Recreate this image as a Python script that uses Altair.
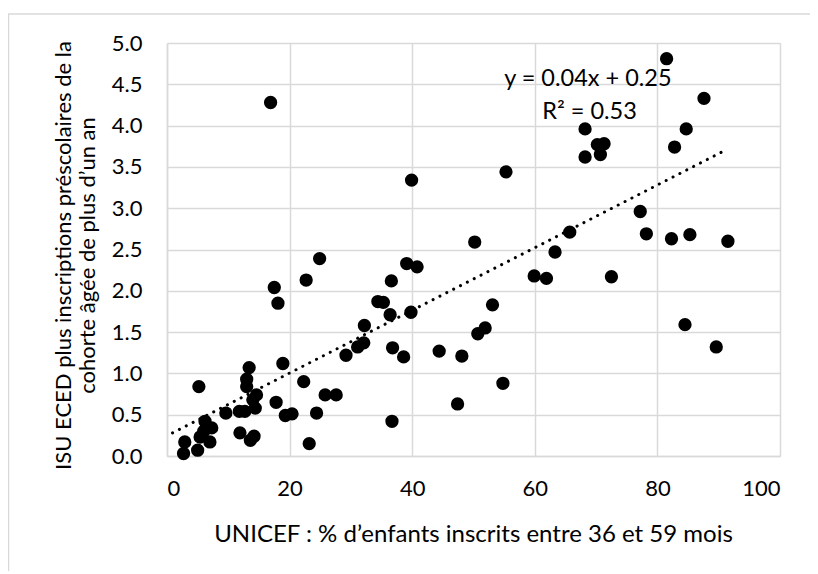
import altair as alt
import pandas as pd

# Data
unicef_pct = [81.5, 16.9, 87.6, 68.2, 84.7, 70.2, 71.3, 82.8, 68.2, 70.7,
              55.3, 39.9, 77.2, 65.7, 78.2, 82.3, 85.3, 91.5, 50.2, 63.3,
              24.9, 39.1, 40.8, 59.9, 61.9, 72.5, 22.7, 36.6, 17.5, 18.1,
              34.4, 35.3, 53.1, 36.4, 39.8, 84.5, 32.2, 50.7, 51.9, 32.1,
              31.1, 36.8, 89.6, 44.4, 29.2, 38.6, 48.1, 18.9, 13.4, 13.0,
              13.0, 22.3, 54.8, 5.2, 14.6, 25.8, 27.6, 17.8, 47.4, 14.4,
              11.8, 12.7, 9.6, 24.4, 19.3, 20.4, 6.2, 36.7, 7.3, 11.9,
              14.2, 13.6, 7.0, 23.2, 2.9, 5.0, 2.7, 5.4, 6.0, 14.0]
isu_value = [4.81, 4.28, 4.33, 3.96, 3.96, 3.77, 3.78, 3.74, 3.62, 3.65,
             3.44, 3.34, 2.96, 2.71, 2.69, 2.63, 2.68, 2.60, 2.59, 2.47,
             2.39, 2.33, 2.29, 2.18, 2.15, 2.17, 2.13, 2.12, 2.04, 1.85,
             1.87, 1.86, 1.83, 1.71, 1.74, 1.59, 1.58, 1.48, 1.55, 1.37,
             1.32, 1.31, 1.32, 1.27, 1.22, 1.20, 1.21, 1.12, 1.07, 0.93,
             0.84, 0.90, 0.88, 0.84, 0.74, 0.74, 0.74, 0.65, 0.63, 0.58,
             0.54, 0.54, 0.52, 0.52, 0.49, 0.51, 0.42, 0.42, 0.34, 0.28,
             0.24, 0.19, 0.17, 0.15, 0.17, 0.07, 0.03, 0.23, 0.30, 0.68]

# Linear trendline as drawn in the reference (end points)
trend_x = [0.9, 91.3]
trend_y = [0.28, 3.71]

annot_text = ["y = 0.04x + 0.25", "R² = 0.53"]
annot_x = [55.0, 61.2]
annot_y = [4.56, 4.17]

x_title = "UNICEF : % d’enfants inscrits entre 36 et 59 mois"
y_title = ["ISU ECED plus inscriptions préscolaires de la",
           "cohorte âgée de plus d’un an"]

FONT = "Lato"
GRID = "#d9d9d9"

df = pd.DataFrame({"x": unicef_pct, "y": isu_value})
tr = pd.DataFrame({"x": trend_x, "y": trend_y})
ann = pd.DataFrame({"t": annot_text, "x": annot_x, "y": annot_y})
one = pd.DataFrame({"a": [0]})

xs = alt.Scale(domain=[0, 100], nice=False, zero=True)
ys = alt.Scale(domain=[0, 5], nice=False)

xax = alt.Axis(values=[0, 20, 40, 60, 80, 100], grid=True, ticks=False,
               labelPadding=22, title=x_title, titleX=306, titleY=78,
               titleBaseline="middle", titleAlign="center", titleFontSize=24)
yax = alt.Axis(values=[0, 0.5, 1, 1.5, 2, 2.5, 3, 3.5, 4, 4.5, 5], format=".1f",
               grid=True, ticks=False, labelPadding=25, title=y_title,
               titleX=-104, titleY=212, titleAngle=270, titleBaseline="middle",
               titleAlign="center", titleLineHeight=24, titleFontSize=22)

points = alt.Chart(df).mark_circle(color="black", opacity=1, size=177).encode(
    x=alt.X("x:Q", scale=xs, axis=xax),
    y=alt.Y("y:Q", scale=ys, axis=yax),
)

trend = alt.Chart(tr).mark_line(color="black", strokeWidth=3, strokeDash=[0.1, 7.6],
                                strokeCap="round").encode(
    x=alt.X("x:Q", scale=xs),
    y=alt.Y("y:Q", scale=ys),
)

labels = alt.Chart(ann).mark_text(align="left", baseline="middle", font=FONT,
                                  fontSize=23.5, color="black").encode(
    x=alt.X("x:Q", scale=xs),
    y=alt.Y("y:Q", scale=ys),
    text="t:N",
)

frame_top = alt.Chart(one).mark_rule(color=GRID, strokeWidth=1.5).encode(
    x=alt.value(-159), x2=alt.value(660), y=alt.value(-29))
frame_left = alt.Chart(one).mark_rule(color=GRID, strokeWidth=1.5).encode(
    x=alt.value(-158.5), y=alt.value(-29), y2=alt.value(540))

chart = alt.layer(frame_top, frame_left, trend, points, labels).properties(
    width=613, height=413,
    autosize=alt.AutoSizeParams(type="none"),
    padding={"left": 159, "top": 35, "right": 30, "bottom": 115},
).configure_view(stroke=None).configure_axis(
    gridColor=GRID, gridWidth=1.5, domainColor=GRID, domainWidth=1.5,
    labelFont=FONT, labelFontSize=22, labelColor="black",
    titleFont=FONT, titleColor="black", titleFontWeight="normal",
)

chart.save("out.html", embed_options={"renderer": "svg", "actions": False})
